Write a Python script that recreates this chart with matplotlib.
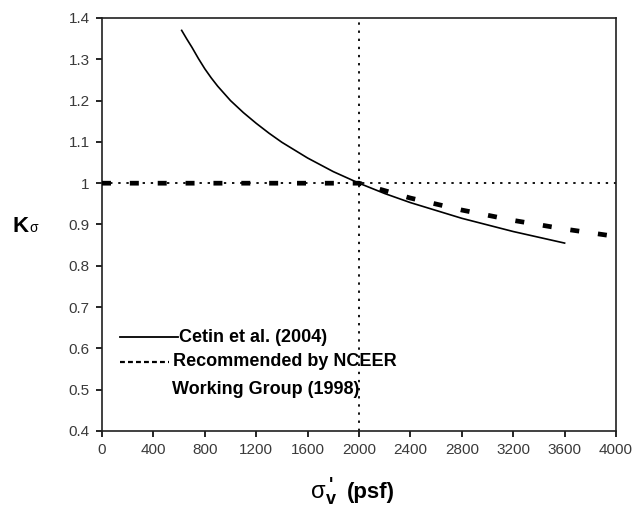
import matplotlib
matplotlib.use("Agg")
import matplotlib.pyplot as plt
from matplotlib.lines import Line2D

plt.rcParams['font.family'] = ['Liberation Sans', 'DejaVu Sans']

# Cetin et al. (2004) curve
cetin_s = [620, 660, 700, 750, 800, 850, 900, 1000, 1100, 1200, 1300, 1400,
           1600, 1800, 2000, 2200, 2400, 2800, 3200, 3600]
cetin_k = [1.37, 1.349, 1.329, 1.302, 1.277, 1.255, 1.235, 1.20, 1.171, 1.145,
           1.121, 1.099, 1.061, 1.028, 1.0, 0.975, 0.953, 0.915, 0.883, 0.855]

# NCEER Working Group (1998) recommendation
nceer_s = [0, 2000, 2400, 2800, 3200, 3600, 4000]
nceer_k = [1.0, 1.0, 0.964, 0.935, 0.91, 0.889, 0.871]

xticks = [0, 400, 800, 1200, 1600, 2000, 2400, 2800, 3200, 3600, 4000]
yticks = [0.4, 0.5, 0.6, 0.7, 0.8, 0.9, 1.0, 1.1, 1.2, 1.3, 1.4]
ylabels = ['0.4', '0.5', '0.6', '0.7', '0.8', '0.9', '1', '1.1', '1.2', '1.3', '1.4']

W, H = 634, 514
fig = plt.figure(figsize=(W / 100, H / 100), dpi=100)
ax = fig.add_axes([102 / W, 1 - 431 / H, (616 - 102) / W, (431 - 18) / H])

# reference lines
ax.axhline(1.0, color='black', lw=1.3, ls=(0, (1.3, 3.2)), zorder=1)
ax.axvline(2000, color='black', lw=1.3, ls=(0, (1.3, 3.2)), zorder=1)

ax.plot(nceer_s, nceer_k, color='black', lw=3.4, ls=(0, (1.9, 4.0)),
        solid_capstyle='butt', dash_capstyle='butt', zorder=3)
ax.plot(cetin_s, cetin_k, color='black', lw=1.2, zorder=4)

ax.set_xlim(0, 4000)
ax.set_ylim(0.4, 1.4)
ax.set_xticks(xticks)
ax.set_yticks(yticks)
ax.set_yticklabels(ylabels)
ax.tick_params(axis='both', direction='out', length=4, width=1.2,
               labelsize=11, labelcolor='#3a3a3a', pad=5)
for s in ax.spines.values():
    s.set_linewidth(1.2)
    s.set_color('#202020')

# legend drawn by hand
def fx(px):
    return px / W

def fy(py):
    return 1 - py / H

fig.add_artist(Line2D([fx(120), fx(178)], [fy(337), fy(337)],
                      color='black', lw=1.3, transform=fig.transFigure))
fig.add_artist(Line2D([fx(120), fx(169)], [fy(362), fy(362)],
                      color='black', lw=1.6, ls=(0, (2.2, 1.4)),
                      transform=fig.transFigure))
fig.text(fx(179), fy(337), 'Cetin et al. (2004)', fontsize=13,
         fontweight='bold', va='center', ha='left')
fig.text(fx(173), fy(362), 'Recommended by NCEER', fontsize=13,
         fontweight='bold', va='center', ha='left')
fig.text(fx(172), fy(389), 'Working Group (1998)', fontsize=13,
         fontweight='bold', va='center', ha='left')

# axis labels
fig.text(fx(13), fy(232), 'K', fontsize=16, fontweight='bold',
         va='baseline', ha='left')
fig.text(fx(29), fy(232), 'σ', fontsize=10, va='baseline', ha='left')

fig.text(fx(311), fy(498), 'σ', fontsize=17, va='baseline', ha='left')
# prime over subscript v, one text block
fig.text(fx(331), fy(477), "'\nv", fontsize=13, fontweight='bold',
         va='top', ha='center', ma='center', linespacing=0.78)
fig.text(fx(347), fy(498), '(psf)', fontsize=16, fontweight='bold',
         va='baseline', ha='left')

fig.savefig('out.png', dpi=100)
